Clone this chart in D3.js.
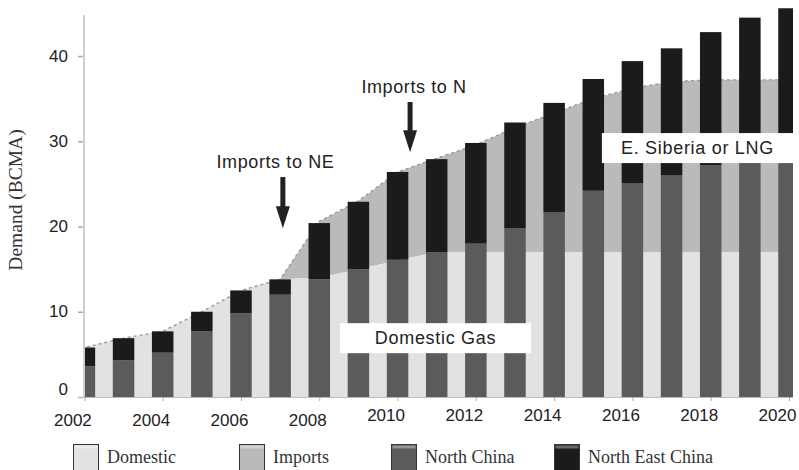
<!DOCTYPE html>
<html>
<head>
<meta charset="utf-8">
<script src="https://cdn.jsdelivr.net/npm/d3@7"></script>
<style>
  html, body { margin: 0; padding: 0; background: #fff; }
  svg { display: block; }
</style>
</head>
<body>
<svg id="chart" width="799" height="470"></svg>
<script>
// ---------------- data ----------------
const years = [2002,2003,2004,2005,2006,2007,2008,2009,2010,2011,2012,2013,2014,2015,2016,2017,2018,2019,2020];
const northChina     = [3.6,4.3,5.2,7.7,9.8,12.0,13.8,15.0,16.1,17.0,18.0,19.8,21.7,24.2,25.1,26.0,27.2,27.4,27.5];
const northEastChina = [2.2,2.6,2.5,2.3,2.7,1.8,6.6,7.9,10.3,10.9,11.8,12.4,12.8,13.1,14.3,14.9,15.6,17.1,18.1];
const domestic       = [5.8,6.9,7.7,10.0,12.5,13.8,14.0,15.0,16.0,17.0,17.0,17.0,17.0,17.0,17.0,17.0,17.0,17.0,17.0];
const imports        = [0,0,0,0,0,0,6.6,8.0,10.4,11.0,12.6,14.6,16.3,18.0,19.2,20.0,20.2,20.2,20.2];
const yTicks = [0,10,20,30,40];
const xTicks = [2002,2004,2006,2008,2010,2012,2014,2016,2018,2020];
const legendLabels = ["Domestic","Imports","North China","North East China"];
const annotations = [
  {text:"Imports to NE", textYear:2006.88, year:2007.07, top:25.8, tip:19.8},
  {text:"Imports to N",  textYear:2010.42, year:2010.32, top:34.6, tip:28.7}
];
const boxLabels = ["Domestic Gas","E. Siberia or LNG"];

// ---------------- setup ----------------
const svg = d3.select("#chart");
const SANS = "'Liberation Sans', Arial, sans-serif";
const SERIF = "'Liberation Serif', 'Times New Roman', serif";
const col = {domestic:"#e2e2e2", imports:"#bababa", north:"#5b5b5b", ne:"#1b1b1b"};

const x = d3.scaleLinear().domain([2002, 2020]).range([84.4, 789]);
const y = d3.scaleLinear().domain([0, 40]).range([397, 56]);
const bw = 21.5;

const defs = svg.append("defs");
defs.append("clipPath").attr("id","plotclip")
  .append("rect").attr("x",84).attr("y",0).attr("width",793-84).attr("height",397);

const plot = svg.append("g").attr("clip-path","url(#plotclip)");

// background areas
const pts = years.map((yr,i)=>({x:x(yr), d:domestic[i], t:domestic[i]+imports[i]}));
const ext = [{x:x(years[0])-bw, d:pts[0].d, t:pts[0].t}, ...pts,
             {x:x(years[years.length-1])+bw, d:pts[pts.length-1].d, t:pts[pts.length-1].t}];

plot.append("path").datum(ext)
  .attr("fill", col.imports)
  .attr("d", d3.area().x(p=>p.x).y0(p=>y(p.d)).y1(p=>y(p.t)));
plot.append("path").datum(ext)
  .attr("fill", col.domestic)
  .attr("d", d3.area().x(p=>p.x).y0(y(0)).y1(p=>y(p.d)));
plot.append("path").datum(ext)
  .attr("fill","none").attr("stroke","#9a9a9a").attr("stroke-width",1.4)
  .attr("stroke-dasharray","3,3")
  .attr("d", d3.line().x(p=>p.x).y(p=>y(p.t)));

// bars
const bars = plot.append("g");
bars.selectAll("rect.n").data(years).join("rect").attr("class","n")
  .attr("x", yr=>x(yr)-bw/2).attr("width", bw)
  .attr("y", (yr,i)=>y(northChina[i])).attr("height", (yr,i)=>y(0)-y(northChina[i]))
  .attr("fill", col.north);
bars.selectAll("rect.ne").data(years).join("rect").attr("class","ne")
  .attr("x", yr=>x(yr)-bw/2).attr("width", bw)
  .attr("y", (yr,i)=>y(northChina[i]+northEastChina[i]))
  .attr("height", (yr,i)=>y(northChina[i])-y(northChina[i]+northEastChina[i]))
  .attr("fill", col.ne);

// y axis
const yAxis = svg.append("g").attr("transform","translate(84,0)")
  .call(d3.axisLeft(y).tickValues(yTicks).tickSize(6).tickPadding(10));
yAxis.select(".domain").remove();
yAxis.selectAll(".tick line").attr("stroke","#aaa").attr("stroke-width",1.5);
yAxis.selectAll(".tick text").attr("font-family",SANS).attr("font-size",17).attr("fill","#222")
  .attr("dy", d => d===0 ? "-0.15em" : "0.3em");
svg.append("line").attr("x1",84).attr("x2",84).attr("y1",y(0)).attr("y2",15)
  .attr("stroke","#cfcfcf").attr("stroke-width",2);

// x axis
const xAxis = svg.append("g").attr("transform",`translate(0,${y(0)})`)
  .call(d3.axisBottom(x).tickValues(xTicks).tickSize(4).tickPadding(8).tickFormat(d3.format("d")));
xAxis.select(".domain").attr("stroke","#bbb").attr("d", `M78,0.5H793`);
xAxis.selectAll(".tick line").attr("stroke","#aaa");
xAxis.selectAll(".tick text").attr("font-family",SANS).attr("font-size",17).attr("fill","#222")
  .attr("x",-12).attr("dy", d => d<=2008 ? "1.02em" : "0.73em");

// y title
svg.append("text").attr("transform","translate(22,200) rotate(-90)")
  .attr("text-anchor","middle").attr("font-family",SERIF).attr("font-size",19.5).attr("fill","#333")
  .text("Demand (BCMA)");

// annotations with arrows
annotations.forEach(a=>{
  const cx = x(a.year);
  svg.append("text").attr("x", x(a.textYear)).attr("y", y(a.top)-9)
    .attr("text-anchor","middle").attr("font-family",SANS).attr("font-size",18)
    .attr("letter-spacing","0.6px").attr("fill","#222").text(a.text);
  const yTop = y(a.top), yTip = y(a.tip);
  const headLen = 22;
  svg.append("rect").attr("x",cx-2.5).attr("y",yTop).attr("width",5).attr("height",yTip-yTop-headLen+1)
    .attr("fill","#222");
  svg.append("path").attr("d",`M${cx-7},${yTip-headLen} L${cx+7},${yTip-headLen} L${cx},${yTip} Z`)
    .attr("fill","#222");
});

// boxed labels
const boxes = [
  {text:boxLabels[0], x0:2008.53, x1:2013.41, v:6.9},
  {text:boxLabels[1], x0:2015.22, x1:2020.3, v:29.2}
];
boxes.forEach(b=>{
  const bx0 = x(b.x0), bx1 = Math.min(x(b.x1), 793);
  const by = y(b.v);
  svg.append("rect").attr("x",bx0).attr("y",by-15).attr("width",bx1-bx0).attr("height",30).attr("fill","#fff");
  svg.append("text").attr("x",(bx0+bx1)/2).attr("y",by+5.5).attr("text-anchor","middle")
    .attr("font-family",SANS).attr("font-size",18).attr("letter-spacing","0.7px").attr("fill","#222")
    .text(b.text);
});

// legend
const legendX = [73, 239, 391, 554];
const legendCol = [col.domestic, col.imports, col.north, col.ne];
const lg = svg.append("g");
legendLabels.forEach((lab,i)=>{
  lg.append("rect").attr("x",legendX[i]+0.5).attr("y",444.5).attr("width",25).attr("height",27)
    .attr("fill",legendCol[i]).attr("stroke","#333").attr("stroke-width",1);
  lg.append("rect").attr("x",legendX[i]+1.5).attr("y",445.5).attr("width",23).attr("height",3)
    .attr("fill","#fff").attr("opacity",0.35);
  lg.append("text").attr("x",legendX[i]+34).attr("y",463).attr("font-family",SERIF).attr("font-size",18)
    .attr("fill","#333").text(lab);
});
</script>
</body>
</html>
